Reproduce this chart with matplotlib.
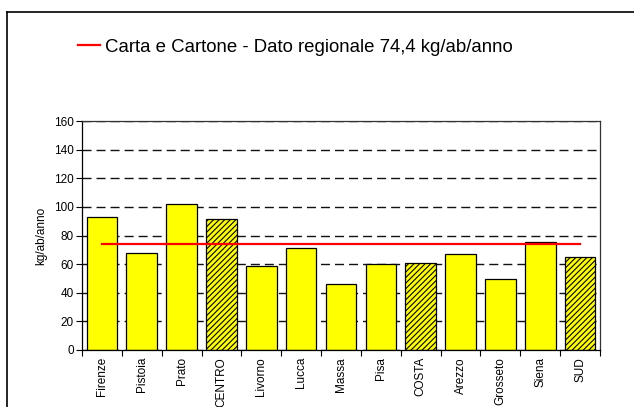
import matplotlib
matplotlib.use("Agg")
import matplotlib.pyplot as plt
from matplotlib.lines import Line2D

plt.rcParams['font.family'] = ['Liberation Sans', 'DejaVu Sans']
plt.rcParams['hatch.linewidth'] = 0.8

# Data
categories = ["Firenze", "Pistoia", "Prato", "CENTRO", "Livorno", "Lucca", "Massa",
              "Pisa", "COSTA", "Arezzo", "Grosseto", "Siena", "SUD"]
values = [93.2, 67.6, 102.2, 91.3, 58.5, 71.5, 45.9, 59.9, 60.8, 66.9, 49.4, 75.7, 65.2]
is_area = [False, False, False, True, False, False, False, False, True, False, False, False, True]
regional_value = 74.4
legend_label = "Carta e Cartone - Dato regionale 74,4 kg/ab/anno"

fig = plt.figure(figsize=(6.34, 4.07), dpi=100)
ax = fig.add_axes([82 / 634, 1 - 350 / 407, 518 / 634, 229 / 407])

x = list(range(len(categories)))
bars = ax.bar(x, values, width=0.77, color="#ffff00", edgecolor="black", linewidth=0.9, zorder=2)
for b, area in zip(bars, is_area):
    if area:
        b.set_hatch("//////")

ax.plot(x, [regional_value] * len(x), color="#ff0000", linewidth=1.6, zorder=3)

ax.set_xlim(-0.5, len(categories) - 0.5)
ax.set_ylim(0, 160)
ax.set_yticks(range(0, 161, 20))
ax.yaxis.grid(True, color="#111111", linestyle=(0, (6.5, 3.6)), linewidth=1.0, zorder=0)
ax.set_axisbelow(True)

# x ticks at category boundaries, labels at centers
ax.set_xticks([i - 0.5 for i in range(len(categories) + 1)])
ax.set_xticklabels([])
ax.set_xticks(x, minor=True)
ax.set_xticklabels(categories, minor=True, rotation=90, fontsize=8.5)
ax.tick_params(axis="x", which="minor", length=0, pad=5)
ax.tick_params(axis="x", which="major", length=4, direction="out", width=0.8)
ax.tick_params(axis="y", length=4, direction="out", width=0.8, labelsize=8.5, pad=2)

for side in ["top", "right"]:
    ax.spines[side].set_color("#333333")
for s in ax.spines.values():
    s.set_linewidth(0.9)

ax.set_ylabel("kg/ab/anno", fontsize=8.5, labelpad=5)

# Legend above plot
leg_handle = Line2D([], [], color="#ff0000", linewidth=1.6)
fig.legend([leg_handle], [legend_label], loc="center left",
           bbox_to_anchor=(61 / 634, 1 - 47 / 407), frameon=False,
           fontsize=13.4, handlelength=1.2, handletextpad=0.27)

# Outer frame (top and left edges visible)
fig.add_artist(Line2D([7 / 634, 1], [1 - 12 / 407, 1 - 12 / 407], color="black", linewidth=1.2))
fig.add_artist(Line2D([7 / 634, 7 / 634], [0, 1 - 12 / 407], color="black", linewidth=1.2))

fig.savefig("out.png", dpi=100)
